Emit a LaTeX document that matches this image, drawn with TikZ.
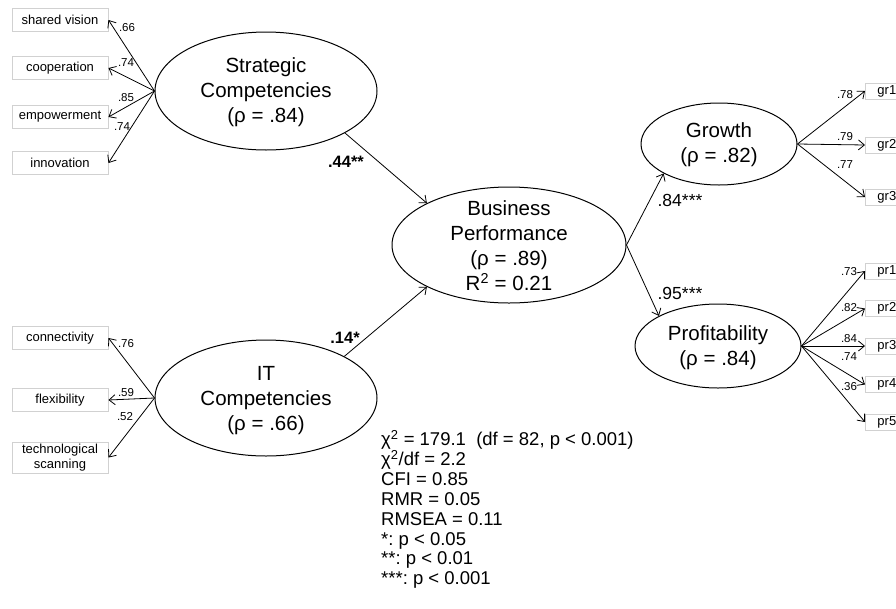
\documentclass[tikz,border=0pt]{standalone}
\usepackage{fontspec}
\setmainfont{Liberation Sans}
\usetikzlibrary{shapes.geometric,arrows.meta}
\frenchspacing
\begin{document}
\begin{tikzpicture}[x=1pt,y=-1pt,
  latent/.style={draw, ellipse, line width=1pt, inner sep=0pt},
  ltext/.style={align=center, inner sep=0pt, font=\fontsize{20.5}{25}\selectfont},
  indbox/.style={draw=black!18, line width=0.9pt, minimum width=96pt, minimum height=23pt, inner sep=0pt, align=center, font=\fontsize{13}{14.5}\selectfont},
  rbox/.style={draw=black!18, line width=0.9pt, anchor=west, minimum height=16pt, inner ysep=0pt, inner xsep=12pt, text width=24pt, align=left, font=\fontsize{13}{14}\selectfont},
  arr/.style={-{Straight Barb[length=6pt,width=10pt]}, line width=0.8pt},
  ld/.style={inner sep=0pt, font=\fontsize{11.5}{12}\selectfont},
  coef/.style={inner sep=0pt, font=\fontsize{17.5}{18}\selectfont},
  bcoef/.style={inner sep=0pt, font=\bfseries\fontsize{16.5}{18}\selectfont},
]
\useasboundingbox (0,0) rectangle (896,608);
\clip (0,0) rectangle (896,608);

% latent variables
\node[latent, minimum width=222pt, minimum height=118pt] (SC) at (266,91) {};
\node[ltext] (SCt) at (266,92) {Strategic\\Competencies\\(ρ = .84)};
\node[latent, minimum width=222pt, minimum height=116pt] (IT) at (266,398) {};
\node[ltext] (ITt) at (266,401) {IT\\Competencies\\(ρ = .66)};
\node[latent, minimum width=234pt, minimum height=116pt] (BP) at (509,245) {};
\node[ltext] (BPt) at (509,246) {Business\\Performance\\(ρ = .89)\\R\textsuperscript{2} = 0.21};
\node[latent, minimum width=156pt, minimum height=82pt] (GR) at (719,144) {};
\node[ltext] (GRt) at (719,145) {Growth\\(ρ = .82)};
\node[latent, minimum width=166pt, minimum height=84pt] (PF) at (718,346) {};
\node[ltext] (PFt) at (718,348) {Profitability\\(ρ = .84)};

% left indicators
\node[indbox] (sv) at (60,20) {shared vision};
\node[indbox] (co) at (60,68) {cooperation};
\node[indbox] (em) at (60,117) {empowerment};
\node[indbox] (inn) at (60,163) {innovation};
\node[indbox] (cn) at (60,338) {connectivity};
\node[indbox] (fl) at (60,400) {flexibility};
\node[indbox, minimum height=31pt] (ts) at (60,457.5) {technological\\scanning};

% right indicators
\node[rbox] (gr1) at (865,91) {gr1};
\node[rbox] (gr2) at (865,145) {gr2};
\node[rbox] (gr3) at (865,197) {gr3};
\node[rbox] (pr1) at (865,271) {pr1};
\node[rbox] (pr2) at (865,308.5) {pr2};
\node[rbox] (pr3) at (865,346) {pr3};
\node[rbox] (pr4) at (865,384.5) {pr4};
\node[rbox] (pr5) at (865,422) {pr5};

% loadings
\foreach \b in {sv,co,em,inn} \draw[arr] (SC.west) -- (\b.east);
\foreach \b in {cn,fl,ts} \draw[arr] (IT.west) -- (\b.east);
\foreach \b in {gr1,gr2,gr3} \draw[arr] (GR.east) -- (\b.west);
\foreach \b in {pr1,pr2,pr3,pr4,pr5} \draw[arr] (PF.east) -- (\b.west);

% structural paths
\draw[arr] (SC.-28.6) -- (BP.153);
\draw[arr] (IT.28) -- (BP.207);
\draw[arr] (BP.east) -- (GR.208);
\draw[arr] (BP.east) -- (PF.153.4);

% loading labels
\node[ld] (l1) at (127,28) {.66};
\node[ld] (l2) at (126,63) {.74};
\node[ld] (l3) at (126,98) {.85};
\node[ld] (l4) at (122,127) {.74};
\node[ld] (l5) at (126,344) {.76};
\node[ld] (l6) at (126,393) {.59};
\node[ld] (l7) at (125,417) {.52};
\node[ld] (l8) at (845,95) {.78};
\node[ld] (l9) at (845,137) {.79};
\node[ld] (l10) at (845,165) {.77};
\node[ld] (l11) at (849,272) {.73};
\node[ld] (l12) at (849,308) {.82};
\node[ld] (l13) at (849,339) {.84};
\node[ld] (l14) at (849,357) {.74};
\node[ld] (l15) at (849,387) {.36};

% path coefficients
\node[bcoef] (c1) at (346,162) {.44**};
\node[bcoef] (c2) at (345,338) {.14*};
\node[coef] (c3) at (680,200) {.84***};
\node[coef] (c4) at (680,293) {.95***};

% fit statistics
\node[anchor=north west, align=left, inner sep=0pt, font=\fontsize{18.5}{19.9}\selectfont] (stats) at (381,430)
{χ\textsuperscript{2} = 179.1\ \ (df = 82, p < 0.001)\\
χ\textsuperscript{2}/df = 2.2\\
CFI = 0.85\\
RMR = 0.05\\
RMSEA = 0.11\\
*: p < 0.05\\
**: p < 0.01\\
***: p < 0.001};
\end{tikzpicture}
\end{document}
